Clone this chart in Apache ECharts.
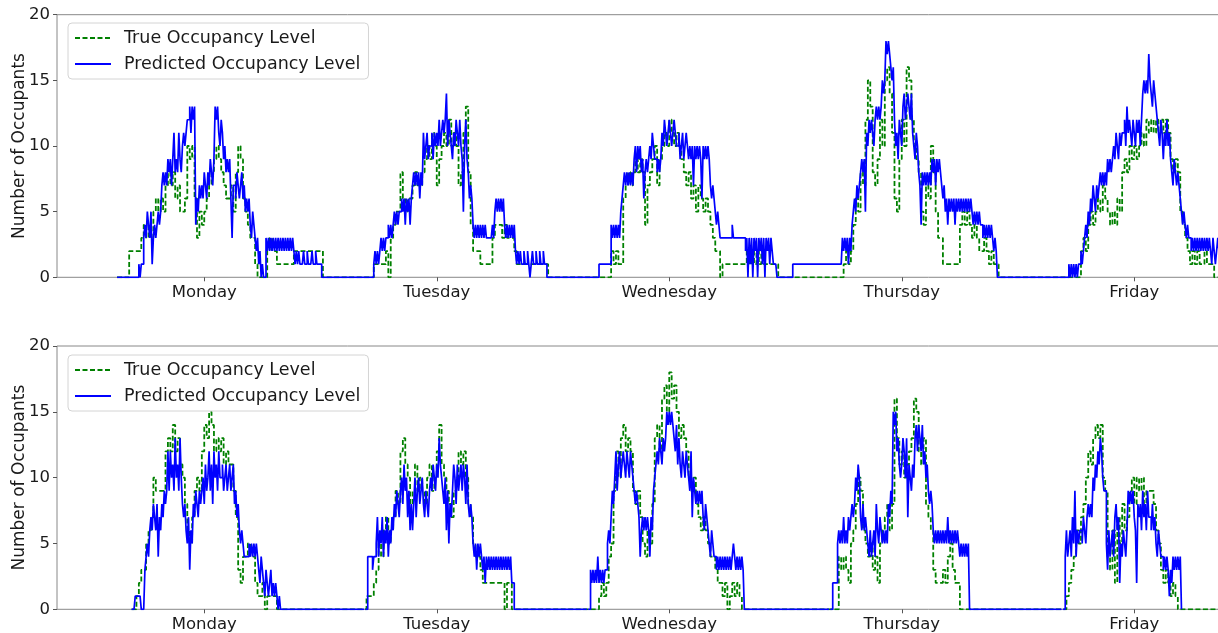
<!DOCTYPE html>
<html>
<head>
<meta charset="utf-8">
<script src="https://cdn.jsdelivr.net/npm/echarts@6/dist/echarts.min.js"></script>
<style>html,body{margin:0;padding:0;background:#fff;}#c{width:1218px;height:633px;}</style>
</head>
<body>
<div id="c"></div>
<script>
// ---- data: hours since Monday 00:00 ----
const dayNames = ['Monday', 'Tuesday', 'Wednesday', 'Thursday', 'Friday'];
const dayTickHours = [12, 36, 60, 84, 108];
const yTicks = [0, 5, 10, 15, 20];
const trueStep = 0.25;    // true occupancy sampled every 15 min
const predStep = 0.125;   // predicted occupancy sampled every 7.5 min

// ===== top panel =====
const topDayStarts = [3.0, 29.0, 52.25, 72.75, 101.0];
const topTrueMon = [0,0,0,0,0, 2,2,2,2,2, 3,4,3,4,3,5,6,5,6,5, 7,8,7,8,6,7,5,5,6,10,9,10,6, 3,5,4,5,6,7,8,9,10,9,8,7,6,6,7, 5,8,10,9,6,5,4,3,3,1,0,0,0,0, 2,3,2,2,1,1,1,1,1,1,1,2, 2,2,2,2,2,2,2,2,2,2,2,0];
const topTrueTue = [0,0,1,1,1,1,1,2,0,3, 4,5,5,8,6,5,6,6,7,8,7,7, 8,9,10,9,11,10,7,9,10,11,10,12, 10,11,10,7,8,11,13,8,4,2,2,2, 1,1,1,1,1,3,4,4,4,3,4,3, 3,3,2,1,1,1,1,1,1,1,1,1, 1,1,1,1,0];
const topTrueWed = [0,0,0,0,0,0,0,2,1,2, 1,1,6,7,8,7,8,9,8,9,8,4, 7,8,9,10,7,9,10,11,10,12,11,10, 11,10,9,8,7,8,6,7,5,7,6,5, 6,5,4,3,2,2,0,1,1,1,1,1, 1,1,1,1,1,2,1,2,1,2,1,2, 1,1,1,1,1,1,0];
const topTrueThu = [0,0,0,0,0,0,0,0,0,0,0,0,0,0,0,0,0,0,0,0,0, 1,2,1,2,4,6,5,8,7,12,15,13, 8,7,9,12,10,15,16,14,11,6,5,9, 12,10,16,15,12,10,9,8,5,4,7,6, 10,8,5,3,3,1,1,1,1,1,1,1, 4,5,4,5,4,3,4,3,2,2,3,2, 1,2,1,1,0];
const topTrueFri = [0,0,0,0,0,0,2,3,2,4,5,4, 5,6,5,7,6,5,4,5,4,6,5,8, 9,8,10,9,10,9,10,11,10,12,11,12, 11,12,11,12,11,12,11,9,8,9,8,5, 4,3,2,1,2,1,2,1,1,2,1,1, 1,0,0,0];

const topPredMon = [0,0,0,0,0,0,0,0,0,0,0,0,0,0,0,0,0,0, 1,0,1,1, 3,4,3,5,4, 3,5,1, 3,4,3,4,5,4, 5,7,8,7,8, 7,9,8,9,7,9,11,8,9,8,11,9,8, 10,11,10,11,12, 12,13,11,13,12,13, 4,6,5,7, 6,7,6,8,7,6, 8,7,9,8,7,9, 13,12,13, 11,10,12,11, 9,10,8,9,8,9, 6,3,7, 7,6,8,7,6,7,8,6,7, 5,6,5,6, 4,3,5,4, 3,2,3,1,2, 0,1,0,0, 3,2,3,2,3,2,3,2,3,2,3,2,3,2,3,2,3,2,3,2,3,2,3,2, 1,2,1,2,1, 1,1,2,1,1,2,1,1,1,2,1,1,2,1,1,1,1, 0];
const topPredTue = [0,0,0,0, 1,2,1,2,1,2, 3,2,3,2,3,3, 4,3,4,3,4, 5,4,5,4,5,5, 6,5,6,4,6,5,6,4,6, 7,8,7,8,7,8,6,8,7, 11,9,10,11,9,10, 10,11,9,11,10,11,10,12,10,11,12,11,12,14, 10,12,11,10,9,11,10,12,11,10,12,10,9,5,10,12,9, 8,6,7,6, 4,3,4,3,4,3,4,3,4,3,4, 3,3,3,3,3,4,3, 5,6,5,6,5,6,5,6, 4,3,4,3,4,3,4,3,4, 2,1,2,1,2,1,1,2,1,1,2,1,0,1,2,1,1,2,1,1,2,1,1,2,1,1, 0];
const topPredWed = [0,0,0,0, 1,1,1,1,1,1,1,1,1,1, 4,3,4,3,4,3,4,3, 5,6,7, 8,7,8,7,8,7,8,7, 9,10,8,10,9,10,8,9,6, 8,9,8,9, 10,9,11,10,9, 9,8,9,8,9, 11,10,12,11,10,11,12,11,10,11,12,11,10, 10,11,9,10,11,9,10,11,10, 9,10,9,10,7,10,9,10,9,10,9,6,10,9,10,9,10,9, 7,6,7,6,5,4,5,4, 3,3,3,3,3,3,3,3,3,3,4,3,3,3,3,3,3,3,3,3,3,2, 3,0,3,1,3,0,3,2,3,0,3,2,3,1,3,0,3,2,3,1,3,2, 1,1,1, 0];
const topPredThu = [1,1,1,1,1,1,1,1,1,1, 1,1,1,1,1,1,1,1,1,1, 1,1,1,1,1,1,1,1,1,1, 1,1,1,1,1,1,1,1,1,1, 1, 3,2,3,2,3,1,3,2, 4,5,6,5, 7,6,7, 8,9,8,9, 5, 11,10,12,11,12,11,10,12, 13,12,13,12,13, 15,14,15, 18,17,18,17, 16,15,16, 12,10,11,9,12,11,10, 13,14,12,13,14,13,12,14, 11,10,9,11,10, 8,7,4,8,7,8,7,8,7,8,7, 9,8,9,7,9,8,9,8, 7,6,7, 5,6,4,6,5,6,5,6,4,6,5, 6,5,6,5,6,5,6,5,6,5,6, 5,4,5,4,5,4,5,4, 4,3,4,3,4,3,4,3,4,3, 2,3,2, 0];
const topPredFri = [0,0, 1,0,1,0,1,0,1,0,1,1, 2,1,2, 3,4,3,5,4, 6,5,7,6,5,7,6,7, 8,7,8,7,8,7, 9,8,9,8,9, 10,9,11,10,9,11,10,11, 11,12,10,13,11,12, 11,10,12,11,10,12,11,12,10,12,14, 15,14,15,14,17,15, 14,13,15,14,13, 12,11,10,12,11,9,11,10,12,10,11, 9,8,7,9,8,7,8,7, 6,5,4,5, 4,3,4,3, 3,2,3,2,3,2,3,2,3,2,3,2,3,2,3,2,3, 2,1,3,2,1,2,3,2];

// ===== bottom panel (null = no prediction recorded) =====
const bottomDayStarts = [4.5, 28.5, 51.5, 76.5, 100.5];
const botTrueMon = [0,0,1,2,3,3,5,6,7,10,9,9, 9,9,12,13,12,14,12,13,11,10,8,6, 5,7,9,10,9,12,14,13,15,14,12,13, 12,13,11,12,11,11,9,7,3,2,4,4, 5,4,4,2,1,1,2,0,1,1,1,1, 0,0,0,0];
const botTrueTue = [0,1,1,1,2,3,5,4,6,7,5,6, 7,9,8,12,13,11,10,8,9,11,9,10, 9,8,10,11,9,10,12,14,11,10,9,8, 7,9,10,12,11,12,10,8,7,5,4,4, 3,2,2,2,2,2,2,2,2,2,0,2, 2,0,0];
const botTrueWed = [0,0,0,0,0,1,2,1,2,4,5,9, 12,10,13,14,12,13,12,9,8,9,7,5, 4,6,5,8,13,14,12,16,17,15,18,16, 17,15,13,14,13,12,10,9,10,8,7,6, 7,6,5,4,4,3,2,2,1,2,0,1, 2,1,2,1,0,0];
const botTrueThu = [0,0,0,0,4,3,4,3,2,5,6,8, 10,9,6,5,4,5,3,4,2,5,6,7, 8,6,8,16,13,11,12,10,11,12,13,16, 15,12,11,13,8,7,6,3,2,2,2,3, 2,4,5,3,2,2,0,0,0,0,0];
const botTrueFri = [0,0,1,2,3,4,6,5,7,8,10,12, 11,13,14,13,14,10,9,4,3,6,2,7, 5,8,6,7,9,10,8,10,9,10,8,9, 9,9,8,6,5,3,2,3,2,1,2,1, 0,0,0,0,0,0,0,0,0,0,0,0,0,0,0,0,0,0,0];

const botPredMon = [0,0,0, 1,1,1,1,1, 0,0,0, 3,4,5,4, 6,7,6,8,7,6,8, 4,7,6,8,7, 9,8,9, 12,9,12, 10,11,9,13,10,11,9,13,10, 8,7,8, 6,5,7,3,6,5, 8,7,9,8,7,9,8, 9,10,8,11,9, 10,12,9,11,8,12,10,11,9,12,10, 10,11,9,10,11,9,10,11,9,10,11, 8,9,7,8, 6,5,6,5, 4,4,4,4, 5,4,5,4,5,4,5,4, 3,2,4,3, 2,1,3,2,1,2,3,1,2,1,2, 1,0,1,0];
const botPredTue = [null,0,0, 4,4,4,4,3,4,4, 5,7,4,6,5,7,4,6,5,7,4,6,5,7,6, 8,7,9,8,7,9, 10,8,11,9,10, 7,9,6,8,6, 8,10,7,9,10,8,9,10, 8,7,9,8,7,9, 10,9,11,10,9,11,10,13,11,10, 9,8,10,6,9,5,8,7, 9,11,10,8,11,9,10,11,9,11,10,8,11, 8,7,8,7, 5,4,5,3,5,4,5,4, 3,4,2,4,3,4,3, 4,3,4,3,4,3,4,3,4,3,4,3,4,3,4,3,4, 2,2, 0];
const botPredWed = [null,0,0, 3,2,3,2,3,2,4,2,3,2,3,2,3,3, 5,6,5, 7,9,8, 10,12,9,11,12,10,11,12, 11,10,12,11,10,12,11,10, 9,8,9,8, 7,4,6,7, 6,7,6,7,6,4,7,6, 9,10,11, 12,11,13,12,11,13,12,13, 15,14,15,14,15,14, 13,12,14,11,13, 11,10,12,11,10,12,11,10, 9,12,7,10, 9,8,9,8,9,8,9, 7,6,8,7,6, 5,4,6,5,4, 4,3,4,3,4,3,4,3,4,3,4,3,4,3, 4,5,4,3, 4,3,4,3,4,3, 0];
const botPredThu = [null,0,0, 2,2,2,2, 5,6,5, 6,5,7,5,6,5,7,6, 7,8,7,8, 10,9,11,10, 7,6,8,6,7,6, 5,4,6,4,5,6,4, 8,6,5,7, 6,5,6,5,6,5, 8,7,9,8, 15,14,15, 12,13,11, 10,11,13,12,10,13,7,11,10,9,11,10, 13,14,12,14,13,12,14, 11,12,10,11, 9,8,9,8, 6,5,6,5,6,5,6,5, 6,5,6,5,7,5,6,5,6,5,6,5,6, 5,4,5,4,5,4,5,4,5, 0];
const botPredFri = [null,0,0, 4,6,4,5,6, 4,7,5,9,4,6,5,6, 6,5,7,6,5,7, 8,7,8,7, 10,9,11,10, 12,11,13,12, 10,9,9, 5,3,6,4,5,6,4, 7,8,6,7, 2,5,4,6,5,4,6, 9,8,9,8,9, 7,6,2,8,7, 8,6,9,7,8,6,9,7, 7,6,8,6,7, 5,4,6,5,4, 4,3,4,3,4,3, 1,3,2, 4,3,4,3,4,3,4, 0];

const seriesNames = ['True Occupancy Level', 'Predicted Occupancy Level'];

function build(starts, step, days) {
  const out = [];
  days.forEach((arr, d) => {
    arr.forEach((v, i) => { out.push([starts[d] + i * step, v === null ? '-' : v]); });
  });
  return out;
}

const topTrue = build(topDayStarts, trueStep, [topTrueMon, topTrueTue, topTrueWed, topTrueThu, topTrueFri]);
const topPred = build(topDayStarts, predStep, [topPredMon, topPredTue, topPredWed, topPredThu, topPredFri]);
const botTrue = build(bottomDayStarts, trueStep, [botTrueMon, botTrueTue, botTrueWed, botTrueThu, botTrueFri]);
const botPred = build(bottomDayStarts, predStep, [botPredMon, botPredTue, botPredWed, botPredThu, botPredFri]);

const FONT = 'DejaVu Sans';
const TXT = '#1a1a1a';
const GREEN = '#008000';
const BLUE = '#0000ff';

function xAxisCfg(gi) {
  return {
    type: 'value', gridIndex: gi, min: -3.2, max: 116.8,
    axisLine: { show: false, onZero: false },
    splitLine: { show: false },
    axisTick: { show: true, length: 4, lineStyle: { color: '#555' }, customValues: dayTickHours },
    axisLabel: {
      show: true, margin: 7, fontFamily: FONT, fontSize: 16.5, color: TXT,
      customValues: dayTickHours,
      formatter: v => dayNames[dayTickHours.indexOf(v)] || ''
    }
  };
}
function yAxisCfg(gi) {
  return {
    type: 'value', gridIndex: gi, min: 0, max: 20, interval: 5,
    name: 'Number of Occupants', nameLocation: 'middle', nameGap: 29, nameMoveOverlap: false,
    nameTextStyle: { fontFamily: FONT, fontSize: 17, color: TXT },
    axisLine: { show: false, onZero: false },
    splitLine: { show: false },
    axisTick: { show: true, length: 4, lineStyle: { color: '#555' } },
    axisLabel: { margin: 7, fontFamily: FONT, fontSize: 16.5, color: TXT }
  };
}
function legendCfg(top) {
  return {
    orient: 'vertical', left: 68, top: top,
    data: seriesNames,
    itemWidth: 36, itemHeight: 12, itemGap: 8,
    padding: [6, 8, 6, 6],
    backgroundColor: 'rgba(255,255,255,0.85)',
    borderColor: '#d4d4d4', borderWidth: 1, borderRadius: 4,
    itemStyle: { color: 'rgba(0,0,0,0)', borderWidth: 0, borderColor: 'rgba(0,0,0,0)' },
    textStyle: { fontFamily: FONT, fontSize: 17.5, color: TXT, padding: [0, 0, 0, 8] }
  };
}
function lineSeries(name, gi, data, color, dashed) {
  return {
    name: name, type: 'line', xAxisIndex: gi, yAxisIndex: gi,
    data: data, step: 'end', symbol: 'none', showSymbol: false,
    connectNulls: false, animation: false,
    lineStyle: { color: color, width: dashed ? 1.8 : 1.7, type: dashed ? [5, 2.5] : 'solid' },
    itemStyle: { color: color },
    z: dashed ? 2 : 3
  };
}

const gridBase = { left: 57, width: 1162.5, show: true, borderColor: '#888', borderWidth: 1, backgroundColor: 'transparent', containLabel: false, outerBoundsMode: 'none' };

const chart = echarts.init(document.getElementById('c'), null, { renderer: 'canvas' });
chart.setOption({
  backgroundColor: '#ffffff',
  animation: false,
  grid: [
    Object.assign({}, gridBase, { top: 14.7, height: 262.6 }),
    Object.assign({}, gridBase, { top: 346, height: 263.3 })
  ],
  xAxis: [xAxisCfg(0), xAxisCfg(1)],
  yAxis: [yAxisCfg(0), yAxisCfg(1)],
  legend: [legendCfg(23), legendCfg(355)],
  series: [
    lineSeries(seriesNames[0], 0, topTrue, GREEN, true),
    lineSeries(seriesNames[1], 0, topPred, BLUE, false),
    lineSeries(seriesNames[0], 1, botTrue, GREEN, true),
    lineSeries(seriesNames[1], 1, botPred, BLUE, false)
  ]
});
</script>
</body>
</html>
